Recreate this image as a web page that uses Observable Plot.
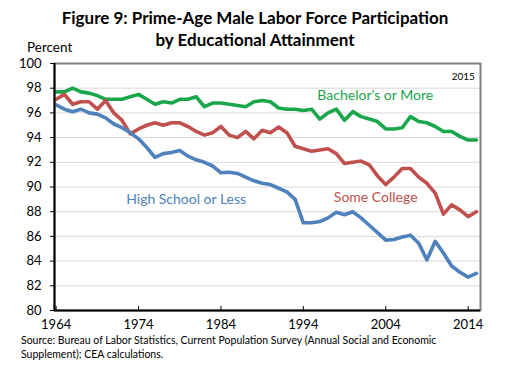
<!DOCTYPE html>
<html><head><meta charset="utf-8">
<script src="https://cdn.jsdelivr.net/npm/d3@7"></script>
<script src="https://cdn.jsdelivr.net/npm/@observablehq/plot@0.6"></script>
<style>
body{margin:0;background:#fff;font-family:Lato,"Open Sans",sans-serif;color:#000;}
#wrap{position:relative;width:517px;height:370px;overflow:hidden;}
#title{position:absolute;left:0;width:510px;top:7px;text-align:center;font-weight:bold;font-size:17px;line-height:22px;z-index:2;}
#ylab{position:absolute;left:27px;top:39px;font-size:13.5px;z-index:2;}
#chart{position:absolute;left:0;top:44px;z-index:1;}
#src{position:absolute;left:21px;top:333px;font-size:10.5px;line-height:14px;width:440px;z-index:2;}
</style></head>
<body><div id="wrap">
<div id="title">Figure 9: Prime-Age Male Labor Force Participation<br>by Educational Attainment</div>
<div id="ylab">Percent</div>
<div id="chart"></div>
<div id="src">Source: Bureau of Labor Statistics, Current Population Survey (Annual Social and Economic Supplement); CEA calculations.</div>
</div>
<script>
const years = [1964,1965,1966,1967,1968,1969,1970,1971,1972,1973,1974,1975,1976,1977,1978,1979,1980,1981,1982,1983,1984,1985,1986,1987,1988,1989,1990,1991,1992,1993,1994,1995,1996,1997,1998,1999,2000,2001,2002,2003,2004,2005,2006,2007,2008,2009,2010,2011,2012,2013,2014,2015];
const bachelors = [97.7,97.7,98.0,97.7,97.6,97.4,97.1,97.1,97.1,97.3,97.5,97.1,96.7,96.9,96.8,97.1,97.1,97.3,96.5,96.8,96.8,96.7,96.6,96.5,96.9,97.0,96.9,96.4,96.3,96.3,96.2,96.3,95.5,96.0,96.3,95.4,96.1,95.7,95.5,95.3,94.7,94.7,94.8,95.7,95.3,95.2,94.9,94.5,94.5,94.1,93.8,93.8];
const someCollege = [97.1,97.5,96.7,96.9,96.9,96.3,97.0,96.0,95.4,94.3,94.7,95.0,95.2,95.0,95.2,95.2,94.9,94.5,94.2,94.4,94.9,94.2,94.0,94.5,93.9,94.6,94.4,94.85,94.4,93.3,93.1,92.9,93.0,93.1,92.7,91.9,92.0,92.1,91.8,90.9,90.2,90.8,91.5,91.5,90.8,90.3,89.5,87.8,88.55,88.15,87.6,88.0];
const highSchool = [96.65,96.3,96.1,96.3,96.0,95.9,95.6,95.1,94.8,94.4,93.9,93.2,92.4,92.7,92.8,92.95,92.5,92.2,92.0,91.7,91.15,91.2,91.1,90.8,90.5,90.3,90.2,89.9,89.6,89.0,87.1,87.1,87.2,87.5,87.95,87.75,88.0,87.5,86.9,86.3,85.7,85.75,85.95,86.1,85.45,84.1,85.6,84.65,83.6,83.1,82.7,83.0];
const seriesNames = ["Bachelor's or More","Some College","High School or Less"];
const seriesColors = ["#1aa64b","#c0504d","#4f81bd"];
const xTicks = [1964,1974,1984,1994,2004,2014];
const yTicks = [80,82,84,86,88,90,92,94,96,98,100];
const labelNames = ["Bachelor's or More","Some College","High School or Less","2015"];
const labelYears = [1995.7,1997.7,1972.5,2012.0];
const labelValues = [97.4,89.15,89.0,98.9];
const labelColors = ["#1aa64b","#c0504d","#4f81bd","#000"];

const allSeries = [bachelors, someCollege, highSchool];
const rows = allSeries.flatMap((vals, s) => years.map((y, i) => ({year: y, value: vals[i], series: seriesNames[s]})));
const labels = labelNames.map((t, i) => ({text: t, year: labelYears[i], value: labelValues[i], color: labelColors[i], size: i === 3 ? 10 : 14}));

const plot = Plot.plot({
  width: 517, height: 289,
  marginLeft: 54, marginRight: 37, marginTop: 19, marginBottom: 23,
  style: {fontFamily: "Lato, 'Open Sans', sans-serif", fontSize: "13px", color: "#000", background: "none", overflow: "visible"},
  x: {domain: [1963.8, 2015.5]},
  y: {domain: [80, 100]},
  color: {domain: seriesNames, range: seriesColors},
  marks: [
    Plot.gridY(yTicks.filter(d => d > 80 && d < 100), {stroke: "#d9d9d9", strokeOpacity: 1, strokeWidth: 1}),
    Plot.frame({stroke: "#7f7f7f", strokeWidth: 2}),
    Plot.line(rows, {x: "year", y: "value", z: "series", stroke: "series", strokeWidth: 3.6, strokeLinejoin: "round", strokeLinecap: "round"}),
    Plot.ruleX([1963.8], {stroke: "#000", strokeWidth: 2}),
    Plot.ruleY([80], {stroke: "#000", strokeWidth: 2}),
    Plot.axisY({ticks: yTicks, tickSize: 4, tickPadding: 9, tickFormat: d => d, label: null, fontSize: 13}),
    Plot.axisX({ticks: xTicks, tickSize: -4, tickPadding: 13, tickFormat: d => String(d), label: null, fontSize: 13}),
    Plot.text(labels, {x: "year", y: "value", text: "text", fill: "color", fontSize: "size", textAnchor: "start"})
  ]
});
document.getElementById("chart").appendChild(plot);
</script>
</body></html>
